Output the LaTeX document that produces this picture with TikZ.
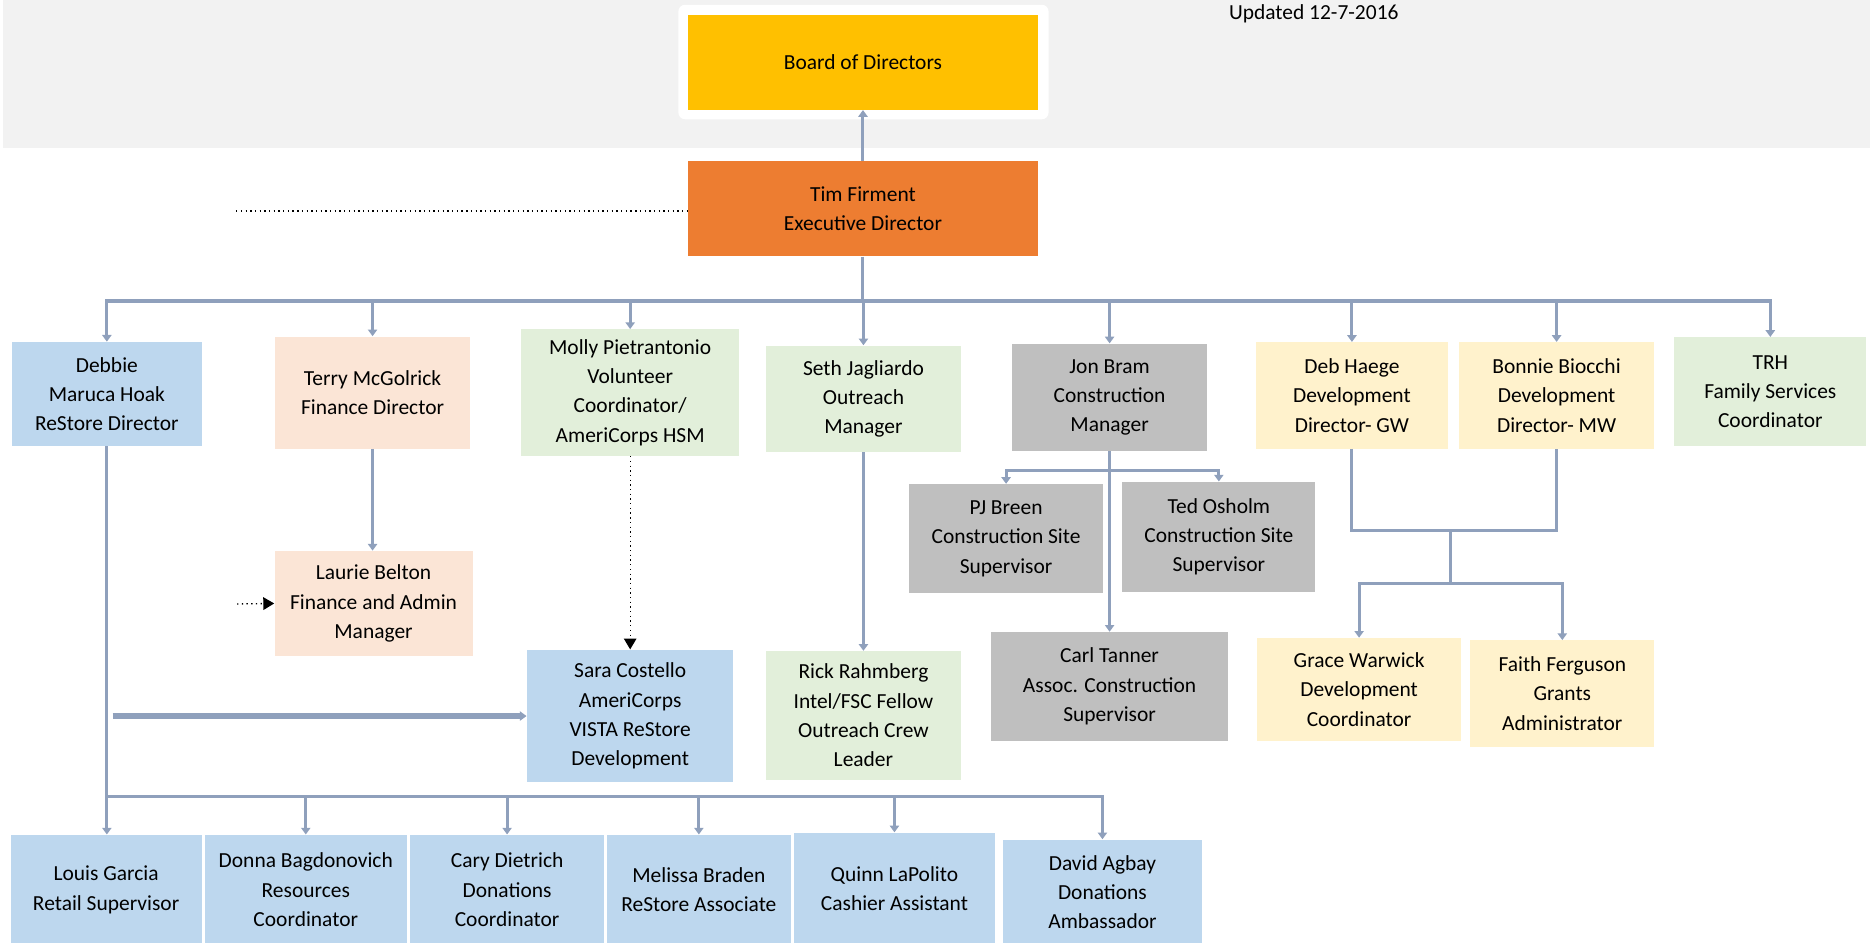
\documentclass[tikz,border=0pt]{standalone}
\usepackage{fontspec}
\setmainfont{Carlito}
\usepackage{tikz}
\usetikzlibrary{arrows.meta,calc}

\definecolor{bandgrey}{HTML}{F2F2F2}
\definecolor{boardgold}{HTML}{FFC000}
\definecolor{execorange}{HTML}{ED7D31}
\definecolor{storeblue}{HTML}{BDD7EE}
\definecolor{financepeach}{HTML}{FBE5D6}
\definecolor{outreachgreen}{HTML}{E2EFDA}
\definecolor{buildgrey}{HTML}{BFBFBF}
\definecolor{devyellow}{HTML}{FFF2CC}
\definecolor{linkblue}{RGB}{143,160,188}

\begin{document}
\begin{tikzpicture}[%
		font=\fontsize{12.8}{17.5}\selectfont,
		person/.style={inner sep=2pt, align=center},
		link/.style={draw=linkblue, line width=1.8pt},
		linkhead/.style={-{Triangle[width=5.5pt,length=4pt]}},
		hint/.style={draw=black, line width=0.8pt, dotted},
		hinthead/.style={-{Triangle[width=7.5pt,length=6.5pt]}}
		]

		\useasboundingbox (0,0) rectangle (39.2,-19.75);

		%% Hintergrund oben
		\fill[bandgrey] (0.07,0) rectangle (39.2,-3.1);
		\fill[white, rounded corners=4pt] (14.22,-0.1) rectangle (21.98,-2.5);
		\node[anchor=base] (updated) at (27.54,-0.4) {Updated 12-7-2016};

		%% Leitung
		\node[person, fill=boardgold, minimum width=7.33cm, minimum height=1.98cm] (board) at (18.09,-1.31) {Board of Directors};
		\node[person, fill=execorange, minimum width=7.33cm, minimum height=2cm] (tim) at (18.09,-4.375) {Tim Firment\\Executive Director};

		%% erste Ebene
		\node[person, fill=storeblue, minimum width=3.98cm, minimum height=2.18cm] (debbie) at (2.24,-8.26) {Debbie\\Maruca Hoak\\ReStore Director};
		\node[person, fill=financepeach, minimum width=4.08cm, minimum height=2.35cm] (terry) at (7.81,-8.23) {Terry McGolrick\\Finance Director};
		\node[person, fill=outreachgreen, minimum width=4.58cm, minimum height=2.65cm] (molly) at (13.21,-8.23) {Molly Pietrantonio\\Volunteer\\Coordinator/\\AmeriCorps HSM};
		\node[person, fill=outreachgreen, minimum width=4.1cm, minimum height=2.23cm] (seth) at (18.1,-8.36) {Seth Jagliardo\\Outreach\\Manager};
		\node[person, fill=buildgrey, minimum width=4.08cm, minimum height=2.25cm] (jon) at (23.26,-8.33) {Jon Bram\\Construction\\Manager};
		\node[person, fill=devyellow, minimum width=4.03cm, minimum height=2.23cm] (deb) at (28.34,-8.29) {Deb Haege\\Development\\Director- GW};
		\node[person, fill=devyellow, minimum width=4.1cm, minimum height=2.23cm] (bonnie) at (32.63,-8.29) {Bonnie Biocchi\\Development\\Director- MW};
		\node[person, fill=outreachgreen, minimum width=4.03cm, minimum height=2.28cm] (trh) at (37.11,-8.21) {TRH\\Family Services\\Coordinator};

		%% zweite Ebene
		\node[person, fill=financepeach, minimum width=4.15cm, minimum height=2.2cm] (laurie) at (7.83,-12.65) {Laurie Belton\\Finance and Admin\\Manager};
		\node[person, fill=storeblue, minimum width=4.33cm, minimum height=2.78cm] (sara) at (13.21,-15.01) {Sara Costello\\AmeriCorps\\VISTA ReStore\\Development};
		\node[person, fill=outreachgreen, minimum width=4.1cm, minimum height=2.7cm] (rick) at (18.1,-15.0) {Rick Rahmberg\\Intel/FSC Fellow\\Outreach Crew\\Leader};
		\node[person, fill=buildgrey, minimum width=4.08cm, minimum height=2.28cm] (pj) at (21.09,-11.29) {PJ Breen\\Construction Site\\Supervisor};
		\node[person, fill=buildgrey, minimum width=4.05cm, minimum height=2.3cm] (ted) at (25.55,-11.25) {Ted Osholm\\Construction Site\\Supervisor};
		\node[person, fill=buildgrey, minimum width=4.98cm, minimum height=2.28cm] (carl) at (23.26,-14.39) {Carl Tanner\\Assoc. Construction\\Supervisor};
		\node[person, fill=devyellow, minimum width=4.28cm, minimum height=2.15cm] (grace) at (28.49,-14.45) {Grace Warwick\\Development\\Coordinator};
		\node[person, fill=devyellow, minimum width=3.85cm, minimum height=2.23cm] (faith) at (32.75,-14.54) {Faith Ferguson\\Grants\\Administrator};

		%% ReStore Team
		\node[person, fill=storeblue, minimum width=4cm, minimum height=2.3cm] (louis) at (2.225,-18.65) {Louis Garcia\\Retail Supervisor};
		\node[person, fill=storeblue, minimum width=4.23cm, minimum height=2.3cm] (donna) at (6.41,-18.65) {Donna Bagdonovich\\Resources\\Coordinator};
		\node[person, fill=storeblue, minimum width=4.05cm, minimum height=2.3cm] (cary) at (10.63,-18.65) {Cary Dietrich\\Donations\\Coordinator};
		\node[person, fill=storeblue, minimum width=3.85cm, minimum height=2.3cm] (melissa) at (14.65,-18.65) {Melissa Braden\\ReStore Associate};
		\node[person, fill=storeblue, minimum width=4.2cm, minimum height=2.35cm] (quinn) at (18.75,-18.63) {Quinn LaPolito\\Cashier Assistant};
		\node[person, fill=storeblue, minimum width=4.18cm, minimum height=2.2cm] (david) at (23.11,-18.7) {David Agbay\\Donations\\Ambassador};

		%% Hilfspunkte
		\coordinate (bus) at (18.09,-6.3);
		\coordinate (jonbar) at (23.26,-9.87);
		\coordinate (devtop) at (30.4,-11.125);
		\coordinate (devbot) at (30.4,-12.225);
		\coordinate (shopy) at (0,-16.7);
		\coordinate (shop) at (debbie.south |- shopy);
		\coordinate (timdot) at (4.95,-4.425);
		\coordinate (lauriein) at (4.97,-12.66);

		%% Verbindungen
		\draw[link, linkhead] (tim.north) -- (board.south);
		\draw[link] (tim.south) -- (bus);
		\draw[link, line width=2.4pt, line cap=rect] (bus -| debbie.north) -- (bus -| trh.north);
		\foreach \n in {debbie,terry,molly,seth,jon,deb,bonnie,trh}
			\draw[link, linkhead] (bus -| \n.north) -- (\n.north);

		\draw[link, linkhead] (terry.south) -- (terry.south |- laurie.north);
		\draw[link, linkhead] (seth.south) -- (seth.south |- rick.north);

		\draw[link, linkhead] (jon.south) -- (jon.south |- carl.north);
		\draw[link, line cap=rect] (jonbar -| pj.north) -- (jonbar -| ted.north);
		\foreach \n in {pj,ted}
			\draw[link, linkhead] (jonbar -| \n.north) -- (\n.north);

		\draw[link] (deb.south) |- (devtop) -| (bonnie.south);
		\draw[link] (devtop) -- (devbot);
		\draw[link, linkhead] (devbot) -| (grace.north);
		\draw[link, linkhead] (devbot) -| (faith.north);

		\draw[link, linkhead] (debbie.south) -- (debbie.south |- louis.north);
		\draw[link, linkhead] (shop) -| (david.north);
		\foreach \n in {donna,cary,melissa,quinn}
			\draw[link, linkhead] (shop -| \n.north) -- (\n.north);
		\draw[link, line width=3.2pt, linkhead] ($(debbie.south |- sara.west)+(0.12,0)$) -- (sara.west);

		%% gepunktete Linien
		\draw[hint] (timdot) -- (timdot -| tim.west);
		\draw[hint, hinthead] (lauriein) -- (laurie.west);
		\draw[hint, hinthead] (molly.south) -- (molly.south |- sara.north);
	\end{tikzpicture}
\end{document}
